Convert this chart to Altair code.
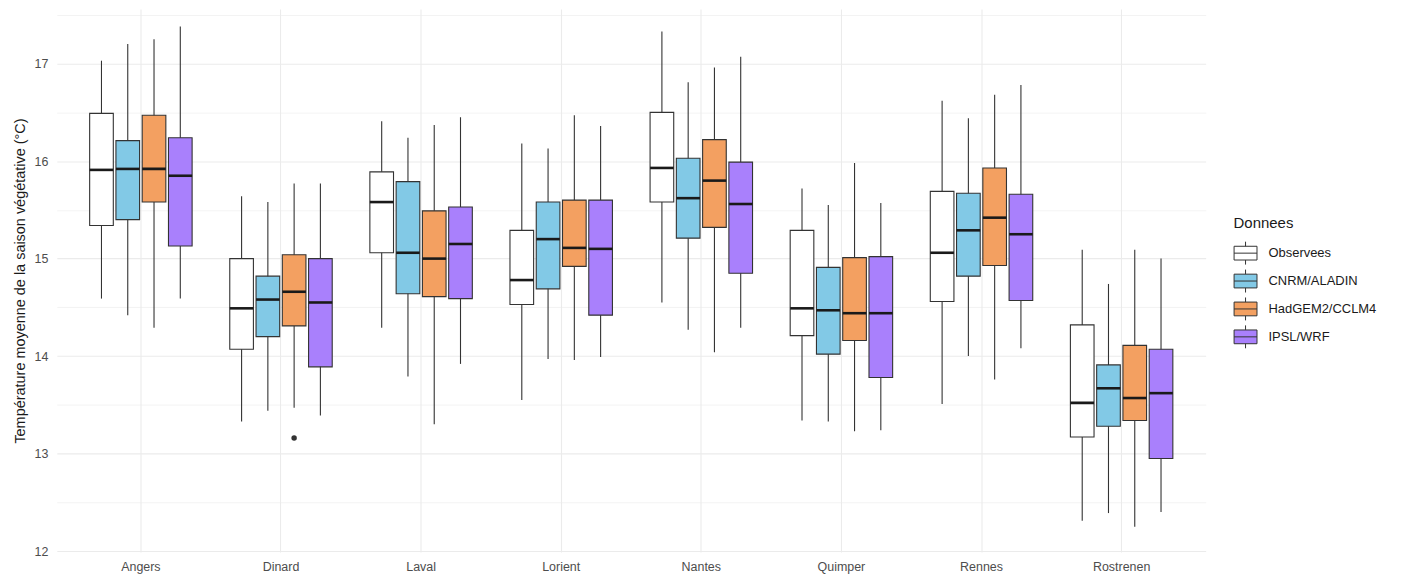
import altair as alt
import pandas as pd

cities = ["Angers", "Dinard", "Laval", "Lorient", "Nantes", "Quimper", "Rennes", "Rostrenen"]
series = ["Observees", "CNRM/ALADIN", "HadGEM2/CCLM4", "IPSL/WRF"]
colors = ["#FFFFFF", "#82C9E6", "#F3A061", "#A980FC"]

# whisker low, Q1, median, Q3, whisker high  (per city)
obs_lo = [14.59, 13.33, 14.29, 13.55, 14.55, 13.34, 13.51, 12.31]
obs_q1 = [15.34, 14.07, 15.06, 14.53, 15.58, 14.21, 14.56, 13.17]
obs_md = [15.91, 14.49, 15.58, 14.78, 15.93, 14.49, 15.06, 13.52]
obs_q3 = [16.49, 15.00, 15.89, 15.29, 16.50, 15.29, 15.69, 14.32]
obs_hi = [17.03, 15.64, 16.41, 16.18, 17.33, 15.72, 16.62, 15.09]

cnrm_lo = [14.42, 13.44, 13.79, 13.97, 14.27, 13.33, 14.00, 12.39]
cnrm_q1 = [15.40, 14.20, 14.64, 14.69, 15.21, 14.02, 14.82, 13.28]
cnrm_md = [15.92, 14.58, 15.06, 15.20, 15.62, 14.47, 15.29, 13.67]
cnrm_q3 = [16.21, 14.82, 15.79, 15.58, 16.03, 14.91, 15.67, 13.91]
cnrm_hi = [17.20, 15.58, 16.24, 16.13, 16.81, 15.55, 16.44, 14.74]

had_lo = [14.29, 13.47, 13.30, 13.96, 14.04, 13.23, 13.76, 12.25]
had_q1 = [15.58, 14.31, 14.61, 14.92, 15.32, 14.16, 14.93, 13.34]
had_md = [15.92, 14.66, 15.00, 15.11, 15.80, 14.44, 15.42, 13.57]
had_q3 = [16.47, 15.04, 15.49, 15.60, 16.22, 15.01, 15.93, 14.11]
had_hi = [17.25, 15.77, 16.37, 16.47, 16.96, 15.98, 16.68, 15.09]

ipsl_lo = [14.59, 13.39, 13.92, 13.99, 14.29, 13.24, 14.08, 12.40]
ipsl_q1 = [15.13, 13.89, 14.59, 14.42, 14.85, 13.78, 14.57, 12.95]
ipsl_md = [15.85, 14.55, 15.15, 15.10, 15.56, 14.44, 15.25, 13.62]
ipsl_q3 = [16.24, 15.00, 15.53, 15.60, 15.99, 15.02, 15.66, 14.07]
ipsl_hi = [17.38, 15.77, 16.45, 16.36, 17.07, 15.57, 16.78, 15.00]

outlier_city = ["Dinard"]
outlier_series = ["HadGEM2/CCLM4"]
outlier_value = [13.16]

stats = {
    "Observees": (obs_lo, obs_q1, obs_md, obs_q3, obs_hi),
    "CNRM/ALADIN": (cnrm_lo, cnrm_q1, cnrm_md, cnrm_q3, cnrm_hi),
    "HadGEM2/CCLM4": (had_lo, had_q1, had_md, had_q3, had_hi),
    "IPSL/WRF": (ipsl_lo, ipsl_q1, ipsl_md, ipsl_q3, ipsl_hi),
}
rows = []
for s in series:
    lo, q1, md, q3, hi = stats[s]
    for i, c in enumerate(cities):
        rows.append({"city": c, "Donnees": s, "lo": lo[i], "q1": q1[i],
                     "med": md[i], "q3": q3[i], "hi": hi[i]})
df = pd.DataFrame(rows)
out_df = pd.DataFrame({"city": outlier_city, "Donnees": outlier_series, "value": outlier_value})

yticks = [12 + 0.5 * k for k in range(12)]
yscale = alt.Scale(domain=[11.99, 17.56], nice=False, zero=False)
yaxis = alt.Axis(
    title="Température moyenne de la saison végétative (°C)",
    values=yticks,
    labelExpr="datum.value % 1 == 0 ? format(datum.value, 'd') : ''",
    grid=True, gridColor="#EBEBEB",
    gridWidth=alt.condition("datum.value % 1 == 0", alt.value(1.1), alt.value(0.6)),
    ticks=False, tickSize=0, domain=False,
    labelColor="#4D4D4D", labelFontSize=12.5, labelPadding=9,
    titleFontSize=14.5, titleFontWeight="normal", titleColor="#1A1A1A", titlePadding=7,
)
xenc = alt.X(
    "city:N", sort=cities,
    scale=alt.Scale(paddingInner=0.25, paddingOuter=0.225),
    axis=alt.Axis(title=None, bandPosition=0.5, grid=True, gridColor="#EBEBEB", gridWidth=1.1,
                  ticks=False, tickSize=0, domain=False, labelAngle=0,
                  labelColor="#4D4D4D", labelFontSize=12.5, labelPadding=9),
)
xoff = alt.XOffset("Donnees:N", sort=series, scale=alt.Scale(paddingInner=0.1, paddingOuter=0.05))

box_path = "M-1,-0.6H1V0.6H-1Z M-1,0H1 M0,-0.6V-1 M0,0.6V1"

base = alt.Chart(df)
whiskers = base.mark_rule(color="#333333", strokeWidth=1.1).encode(
    x=xenc, xOffset=xoff, y=alt.Y("lo:Q", scale=yscale, axis=yaxis), y2="hi:Q")
boxes = base.mark_bar(stroke="#333333", strokeWidth=1.1).encode(
    x=xenc, xOffset=xoff, y=alt.Y("q1:Q", scale=yscale), y2="q3:Q",
    fill=alt.Fill("Donnees:N", sort=series, scale=alt.Scale(domain=series, range=colors),
                  legend=alt.Legend(title="Donnees", orient="none", legendX=1181, legendY=208,
                                    titleFontSize=15, titleFontWeight="normal", titleColor="#1A1A1A",
                                    labelFontSize=13, labelColor="#1A1A1A", labelOffset=11,
                                    symbolType=box_path, symbolSize=529,
                                    symbolStrokeColor="#333333", symbolStrokeWidth=1,
                                    rowPadding=0, titlePadding=10)))
medians = base.mark_tick(color="#1A1A1A", thickness=2.6, size=23.7, opacity=1).encode(
    x=xenc, xOffset=xoff, y=alt.Y("med:Q", scale=yscale))
outliers = alt.Chart(out_df).mark_circle(color="#333333", size=30, opacity=1).encode(
    x=xenc, xOffset=xoff, y=alt.Y("value:Q", scale=yscale))

chart = alt.layer(whiskers, boxes, medians, outliers).properties(
    width=1153, height=545,
    autosize=alt.AutoSizeParams(type="none"),
    padding={"left": 49, "top": 0, "right": 190, "bottom": 26},
).configure(font="Liberation Sans").configure_view(stroke=None, strokeWidth=0)

chart.save("out.html", embed_options={"renderer": "svg", "actions": False})
